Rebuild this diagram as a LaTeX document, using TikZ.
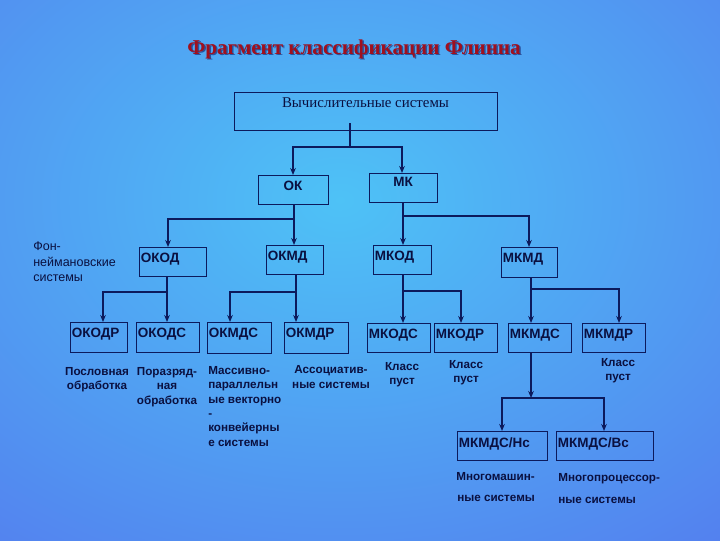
\documentclass[tikz,border=0pt]{standalone}
\usepackage{fontspec}
\setmainfont{Liberation Serif}
\setsansfont{Liberation Sans}
\usetikzlibrary{arrows.meta,fit}
\definecolor{ln}{HTML}{0C1A5C}
\definecolor{tx}{HTML}{0A1040}
\definecolor{ttl}{HTML}{A0101E}
\definecolor{bgin}{HTML}{4EC2F6}
\definecolor{bgout}{HTML}{5478EE}
\tikzset{
 box/.style={draw=ln, line width=0.7pt, inner sep=0pt, outer sep=0pt},
 lbl/.style={font=\sffamily\bfseries\fontsize{9.6}{11}\selectfont, text=tx, inner sep=0pt},
 desc/.style={font=\sffamily\bfseries\fontsize{8.3}{10.2}\selectfont, text=tx, inner sep=0pt},
 conn/.style={draw=ln, line width=0.9pt},
 heavy/.style={draw=ln, line width=1.5pt},
 arr/.style={-{Stealth[length=5pt,width=4pt]}},
}
\newcommand\mybox[6]{%
 \path (#2,#3) coordinate (#1-a) (#4,#5) coordinate (#1-b);
 \node[box, fit=(#1-a)(#1-b)] (#1) {};
 \node[lbl, anchor=north west] (#1-t) at ([shift={(1.5,6)}]#1.north west) {#6};}
\newcommand\mycbox[7]{%
 \path (#2,#3) coordinate (#1-a) (#4,#5) coordinate (#1-b);
 \node[box, fit=(#1-a)(#1-b)] (#1) {};
 \node[lbl, anchor=north] (#1-t) at ([shift={(0,#7)}]#1.north) {#6};}
\begin{document}
\begin{tikzpicture}[x=0.025cm,y=-0.025cm]
\begin{scope}
\clip (0,0) rectangle (720,540);
\shade[inner color=bgin, outer color=bgout] (-340,-300) rectangle (1020,700);
\end{scope}
\useasboundingbox (0,0) rectangle (720,540);

% title
\node[font=\rmfamily\bfseries\fontsize{15}{18}\selectfont, text=black!70!blue, opacity=0.5, inner sep=0pt] (title-s) at (355.5,50.5) {Фрагмент классификации Флинна};
\node[font=\rmfamily\bfseries\fontsize{15}{18}\selectfont, text=ttl, inner sep=0pt] (title) at (354,49) {Фрагмент классификации Флинна};

% top box
\path (234,92) coordinate (vs-a) (497,130) coordinate (vs-b);
\node[box, fit=(vs-a)(vs-b)] (vs) {};
\node[font=\rmfamily\fontsize{10.6}{13}\selectfont, text=tx, inner sep=0pt, anchor=north] (vs-t) at ([shift={(0,5)}]vs.north) {Вычислительные системы};

% boxes
\mycbox{ok}{258}{175}{328}{204}{ОК}{6}
\mycbox{mk}{369}{173}{437}{202}{МК}{4}
\mybox{okod}{139}{247}{206}{276}{ОКОД}
\mybox{okmd}{266}{245}{323}{274}{ОКМД}
\mybox{mkod}{373}{245}{431}{274}{МКОД}
\mybox{mkmd}{501}{247}{557}{277}{МКМД}
\mybox{okodr}{70}{322}{127}{352}{ОКОДР}
\mybox{okods}{136}{322}{199}{352}{ОКОДС}
\mybox{okmds}{207}{322}{271}{353}{ОКМДС}
\mybox{okmdr}{284}{322}{348}{353}{ОКМДР}
\mybox{mkods}{367}{323}{430}{352}{МКОДС}
\mybox{mkodr}{434}{323}{497}{352}{МКОДР}
\mybox{mkmds}{508}{323}{571}{352}{МКМДС}
\mybox{mkmdr}{582}{323}{645}{352}{МКМДР}
\mybox{nc}{457}{431}{547}{460}{МКМДС/Нс}
\mybox{bc}{556}{431}{653}{460}{МКМДС/Вс}

% connectors
\coordinate (j0) at (350,147);
\draw[heavy] ([yshift=7*0.025cm]j0 |- vs.south) -- (j0);
\draw[heavy,arr] (j0) -| (ok.north -| 293,0);
\draw[heavy,arr] (j0) -| (mk.north -| 402,0);

\coordinate (j1) at (294,219);
\draw[conn,arr] (ok.south -| 294,0) -- (okmd.north -| 294,0);
\draw[conn,arr] (j1) -| (okod.north -| 168,0);

\coordinate (j2) at (403,216);
\draw[heavy,arr] (mk.south -| 403,0) -- (mkod.north -| 403,0);
\draw[conn,arr] (j2) -| (mkmd.north -| 529,0);

\coordinate (j3) at (167,292);
\draw[heavy,arr] (okod.south -| 167,0) -- (okods.north -| 167,0);
\draw[heavy,arr] (j3) -| (okodr.north -| 103,0);

\coordinate (j4) at (296,292);
\draw[conn,arr] (okmd.south -| 296,0) -- (okmdr.north -| 296,0);
\draw[conn,arr] (j4) -| (okmds.north -| 230,0);

\coordinate (j5) at (403,291);
\draw[conn,arr] (mkod.south -| 403,0) -- (mkods.north -| 403,0);
\draw[conn,arr] (j5) -| (mkodr.north -| 461,0);

\coordinate (j6) at (531,289);
\draw[conn,arr] (mkmd.south -| 531,0) -- (mkmds.north -| 531,0);
\draw[conn,arr] (j6) -| (mkmdr.north -| 619,0);

\coordinate (j7) at (531,398);
\draw[heavy,arr] (mkmds.south -| 531,0) -- (j7);
\draw[conn,arr] (j7) -| (nc.north -| 502,0);
\draw[heavy,arr] (j7) -| (bc.north -| 604,0);

% descriptions
\node[font=\sffamily\fontsize{8.9}{11}\selectfont, text=tx, inner sep=0pt, align=left, anchor=north west] (fn) at (33,242) {Фон-\\неймановские\\системы};
\node[desc, align=center] (d1) at (97,380) {Пословная\\обработка};
\node[desc, align=center] (d2) at (167,387) {Поразряд-\\ная\\обработка};
\node[desc, align=left, anchor=north west] (d3) at (208,366) {Массивно-\\параллельн\\ые векторно\\-\\конвейерны\\е системы};
\node[desc, align=center] (d4) at (331,377) {Ассоциатив-\\ные системы};
\node[desc, align=center] (d5) at (402,375) {Класс\\пуст};
\node[desc, align=center] (d6) at (466,373) {Класс\\пуст};
\node[desc, align=center] (d7) at (618,371) {Класс\\пуст};
\node[desc, anchor=west] (d8) at (456,477) {Многомашин-};
\node[desc, anchor=west] (d9) at (457,498) {ные системы};
\node[desc, anchor=west] (d10) at (558,479) {Многопроцессор-};
\node[desc, anchor=west] (d11) at (558,500) {ные системы};
\end{tikzpicture}
\end{document}
